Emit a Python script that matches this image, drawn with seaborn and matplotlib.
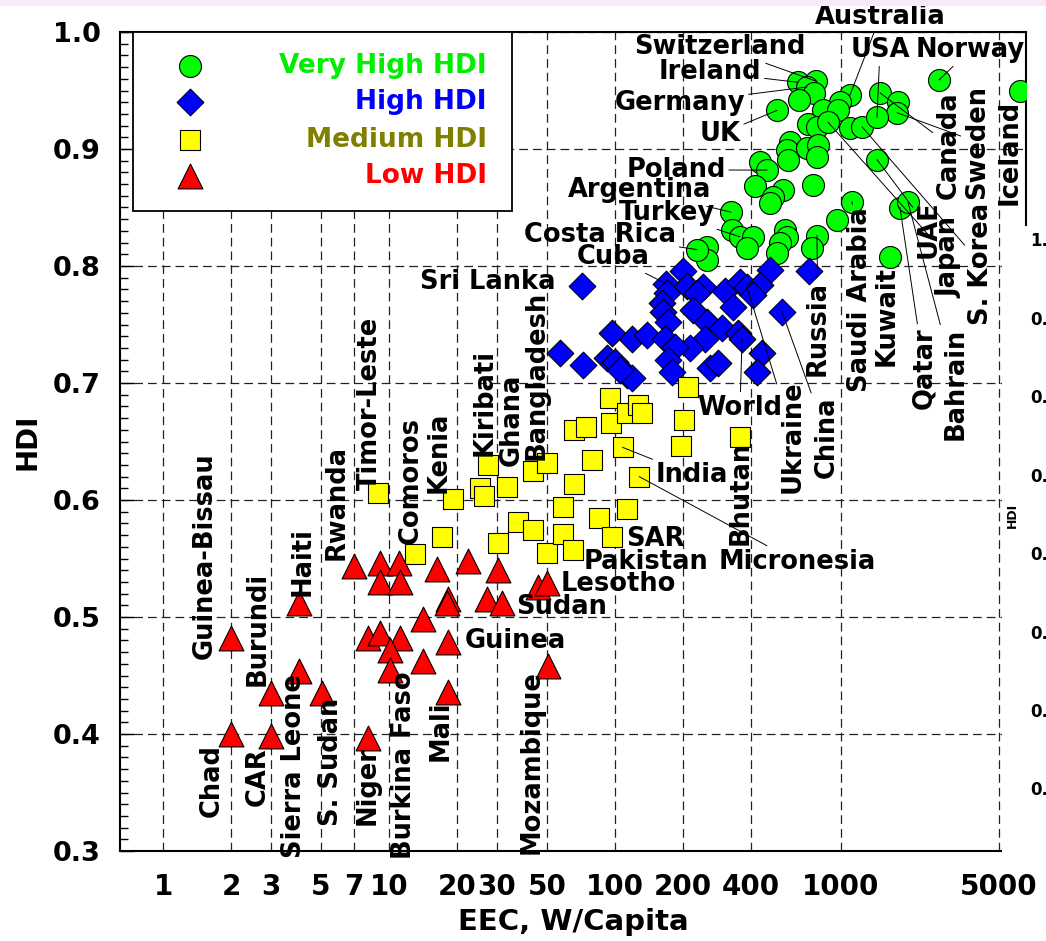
import numpy as np
import matplotlib
matplotlib.use("Agg")
import matplotlib.pyplot as plt
from matplotlib.patches import Rectangle
from matplotlib.ticker import MultipleLocator, NullLocator
import seaborn as sns

sns.set_style("white")
plt.rcParams["font.family"] = ["DejaVu Sans"]
plt.rcParams["font.weight"] = "bold"
plt.rcParams["text.color"] = "black"
plt.rcParams["axes.labelcolor"] = "black"
plt.rcParams["xtick.color"] = "black"
plt.rcParams["ytick.color"] = "black"

# values: EEC (W/capita) and HDI per group
vh_eec = [645, 775, 707, 760, 652, 521, 1096, 990, 832, 970, 714, 783, 876, 1096,
          1239, 1489, 1787, 1770, 1443, 595, 577, 707, 791, 783, 582, 438, 471, 416,
          554, 500, 485, 752, 1443, 1120, 960, 1824, 1977, 326, 330, 357, 408, 384,
          565, 577, 537, 521, 783, 744, 1648, 255, 255, 231, 2715, 6195]
vh_hdi = [0.957, 0.958, 0.953, 0.948, 0.942, 0.933, 0.946, 0.940, 0.933, 0.933, 0.921,
          0.919, 0.923, 0.918, 0.919, 0.948, 0.940, 0.931, 0.927, 0.906, 0.899, 0.901,
          0.903, 0.893, 0.891, 0.889, 0.882, 0.868, 0.865, 0.859, 0.854, 0.869, 0.891,
          0.855, 0.839, 0.850, 0.855, 0.846, 0.831, 0.825, 0.825, 0.815, 0.831, 0.825,
          0.820, 0.811, 0.826, 0.815, 0.808, 0.816, 0.805, 0.814, 0.959, 0.950]

hi_eec = [71.4, 200, 485, 722, 168, 208, 245, 231, 307, 357, 384, 438, 408, 333, 170,
          161, 163, 221, 548, 172, 255, 297, 350, 365, 97, 119, 139, 166, 250, 215, 184,
          57.1, 72.2, 92.2, 100, 113, 119, 172, 179, 263, 286, 447, 425, 105]
hi_hdi = [0.783, 0.796, 0.797, 0.796, 0.785, 0.783, 0.782, 0.777, 0.779, 0.786, 0.782,
          0.784, 0.775, 0.765, 0.777, 0.768, 0.761, 0.762, 0.761, 0.752, 0.752, 0.747,
          0.743, 0.738, 0.743, 0.738, 0.741, 0.738, 0.738, 0.730, 0.731, 0.726, 0.715,
          0.721, 0.718, 0.707, 0.704, 0.720, 0.709, 0.713, 0.717, 0.726, 0.709, 0.711]

md_eec = [8.94, 19.2, 27.4, 25.3, 26.3, 33.3, 43.4, 50.0, 17.2, 13.0, 30.4, 37.2, 43.4,
          50.0, 58.9, 58.9, 65.2, 65.9, 79.1, 65.9, 74.4, 95.1, 96.0, 113, 126, 132,
          108, 128, 85.0, 113, 97, 210, 202, 196, 357]
md_hdi = [0.606, 0.601, 0.630, 0.610, 0.603, 0.611, 0.625, 0.632, 0.568, 0.554, 0.563,
          0.581, 0.574, 0.555, 0.594, 0.571, 0.557, 0.614, 0.634, 0.660, 0.662, 0.687,
          0.666, 0.674, 0.681, 0.674, 0.645, 0.620, 0.585, 0.592, 0.568, 0.697, 0.668,
          0.646, 0.654]

lo_eec = [2.0, 2.0, 3.0, 3.0, 4.0, 4.0, 5.05, 7.0, 9.12, 11.1, 9.12, 11.2, 8.07, 9.12,
          11.2, 10.1, 10.1, 8.07, 14.1, 14.1, 16.3, 18.2, 18.1, 18.2, 18.2, 22.4, 30.4,
          27.1, 31.6, 45.6, 50.0, 50.5]
lo_hdi = [0.482, 0.400, 0.435, 0.398, 0.512, 0.454, 0.435, 0.544, 0.546, 0.546, 0.530,
          0.530, 0.482, 0.486, 0.482, 0.472, 0.455, 0.397, 0.498, 0.462, 0.541, 0.515,
          0.512, 0.479, 0.436, 0.548, 0.540, 0.515, 0.512, 0.526, 0.529, 0.458]

xtick_vals = [1, 2, 3, 5, 7, 10, 20, 30, 50, 100, 200, 400, 1000, 5000]
ytick_vals = [0.3, 0.4, 0.5, 0.6, 0.7, 0.8, 0.9, 1.0]

W, H = 1046, 941

fig = plt.figure(figsize=(W / 100, H / 100), dpi=100)
ax = fig.add_axes([120 / W, 1 - 851 / H, 906 / W, 819 / H])

groups = {
    "vh": ("Very High HDI", vh_eec, vh_hdi, "o", "#00ff00", 250, "#00ee00"),
    "h": ("High HDI", hi_eec, hi_hdi, "D", "#0000ff", 185, "#0000ff"),
    "m": ("Medium HDI", md_eec, md_hdi, "s", "#ffff00", 205, "#808000"),
    "l": ("Low HDI", lo_eec, lo_hdi, "^", "#ff0000", 320, "#ff0000"),
}

for key in ["vh", "h", "m", "l"]:
    name, xs, ys, mk, col, s, tcol = groups[key]
    sns.scatterplot(x=xs, y=ys, marker=mk, color=col, s=s, edgecolor="black",
                    linewidth=0.8, ax=ax, zorder=3, legend=False)

ax.set_xscale("log")
ax.set_xlim(0.645, 6590)
ax.set_ylim(0.3, 1.0)
ax.set_xticks(xtick_vals)
ax.set_xticklabels([str(v) for v in xtick_vals])
ax.xaxis.set_minor_locator(NullLocator())
ax.set_yticks(ytick_vals)
ax.set_yticklabels(["%.1f" % v for v in ytick_vals])
ax.yaxis.set_minor_locator(MultipleLocator(0.01))

ax.tick_params(axis="x", which="both", length=0, pad=16, labelsize=20)
ax.tick_params(axis="y", which="major", direction="in", length=10, width=1,
               pad=14, labelsize=19.5, left=True, right=False)
ax.tick_params(axis="y", which="minor", direction="in", length=6, width=1,
               left=True, right=False)

ax.set_axisbelow(True)
ax.grid(True, which="major", linestyle=(0, (7, 4)), color="#222222", linewidth=0.9)
for sp in ax.spines.values():
    sp.set_color("black")
    sp.set_linewidth(1.5)

ax.set_xlabel("EEC, W/Capita", fontsize=21, fontweight="bold", labelpad=5)
ax.set_ylabel("HDI", fontsize=20, fontweight="bold", labelpad=8)

# legend box drawn by hand so the labels can sit right-aligned like the original
ax.add_patch(Rectangle((0.0143, 0.7814), 0.4184, 0.2186, transform=ax.transAxes,
                       facecolor="white", edgecolor="black", lw=1.3, zorder=4))
leg_rows = [0.9585, 0.9145, 0.8681, 0.8242]
for key, ry in zip(["vh", "h", "m", "l"], leg_rows):
    name, xs, ys, mk, col, s, tcol = groups[key]
    ax.scatter([0.0773], [ry], marker=mk, color=col, s=s, edgecolor="black",
               linewidth=0.8, transform=ax.transAxes, zorder=5, clip_on=False)
    ax.text(0.405, ry, name, transform=ax.transAxes, ha="right", va="center",
            fontsize=19, fontweight="bold", color=tcol, zorder=5)

# country labels: (text, x px, y px from top, rotation, group, point index)
labels = [
    ("Australia", 880, 17, 0, "vh", 6),
    ("Switzerland", 720, 47, 0, "vh", 1),
    ("Ireland", 710, 72, 0, "vh", 0),
    ("Germany", 680, 103, 0, "vh", 2),
    ("UK", 720, 134, 0, "vh", 5),
    ("USA", 880, 50, 0, "vh", 18),
    ("Norway", 970, 50, 0, "vh", 52),
    ("Poland", 676, 170, 0, "vh", 26),
    ("Argentina", 640, 190, 0, "vh", 37),
    ("Turkey", 667, 213, 0, "vh", 39),
    ("Costa Rica", 600, 235, 0, "vh", 51),
    ("Cuba", 613, 257, 0, "h", 4),
    ("Sri Lanka", 488, 282, 0, None, None),
    ("World", 740, 408, 0, "h", 23),
    ("India", 692, 475, 0, "m", 26),
    ("SAR", 655, 539, 0, None, None),
    ("Pakistan", 646, 562, 0, None, None),
    ("Micronesia", 797, 562, 0, "m", 27),
    ("Lesotho", 618, 584, 0, None, None),
    ("Sudan", 562, 607, 0, None, None),
    ("Guinea", 515, 641, 0, None, None),
    ("Canada", 949, 145, 90, "vh", 15),
    ("Sweden", 977, 142, 90, "vh", 17),
    ("Iceland", 1010, 152, 90, None, None),
    ("UAE", 929, 229, 90, "vh", 32),
    ("Japan", 949, 258, 90, "vh", 12),
    ("S. Korea", 981, 264, 90, "vh", 14),
    ("Saudi Arabia", 860, 300, 90, "vh", 33),
    ("Kuwait", 887, 316, 90, None, None),
    ("Qatar", 924, 368, 90, "vh", 35),
    ("Bahrain", 956, 384, 90, "vh", 36),
    ("Russia", 818, 328, 90, "vh", 46),
    ("Ukraine", 793, 437, 90, "h", 10),
    ("China", 827, 437, 90, "h", 18),
    ("Bhutan", 741, 493, 90, None, None),
    ("Bangladesh", 537, 375, 90, None, None),
    ("Ghana", 512, 420, 90, None, None),
    ("Kiribati", 485, 402, 90, None, None),
    ("Kenia", 439, 452, 90, None, None),
    ("Comoros", 411, 481, 90, None, None),
    ("Timor-Leste", 370, 403, 90, None, None),
    ("Rwanda", 337, 502, 90, None, None),
    ("Haiti", 303, 562, 90, None, None),
    ("Burundi", 258, 629, 90, None, None),
    ("Guinea-Bissau", 205, 556, 90, None, None),
    ("Chad", 212, 781, 90, None, None),
    ("CAR", 258, 777, 90, None, None),
    ("Sierra Leone", 294, 766, 90, None, None),
    ("S. Sudan", 331, 762, 90, None, None),
    ("Niger", 368, 786, 90, None, None),
    ("Burkina Faso", 404, 765, 90, None, None),
    ("Mali", 441, 731, 90, None, None),
    ("Mozambique", 532, 762, 90, None, None),
]

for text, px, py, rot, grp, idx in labels:
    style = dict(fontsize=18.5, fontweight="bold", rotation=rot, ha="center",
                 va="center", color="black", zorder=6)
    if grp is not None:
        xs, ys = groups[grp][1], groups[grp][2]
        ax.annotate(text, xy=(xs[idx], ys[idx]), xytext=(px, H - py),
                    textcoords="figure pixels",
                    arrowprops=dict(arrowstyle="-", color="black", lw=0.7,
                                    shrinkA=0, shrinkB=0), **style)
    else:
        ax.annotate(text, xy=(px, H - py), xycoords="figure pixels", **style)

# pink strip at the very top and the pasted-over piece on the right edge
fig.add_artist(Rectangle((0, 1 - 6 / H), 1, 6 / H, transform=fig.transFigure,
                         facecolor="#fbe8f7", edgecolor="none", zorder=1))
fig.add_artist(Rectangle((1002 / W, 1 - 862 / H), 44 / W, (862 - 226) / H,
                         transform=fig.transFigure, facecolor="white",
                         edgecolor="none", zorder=1))
side_ticks = ["1.", "0.", "0.", "0.", "0.", "0.", "0.", "0."]
side_y = [241, 320, 398, 477, 555, 634, 712, 790]
for t, sy in zip(side_ticks, side_y):
    fig.text(1030 / W, 1 - sy / H, t, fontsize=12, fontweight="bold",
             ha="left", va="center", zorder=2)
fig.text(1012 / W, 1 - 515 / H, "HDI", fontsize=9, fontweight="bold",
         rotation=90, ha="center", va="center", zorder=2)

fig.savefig("out.png", dpi=100)
